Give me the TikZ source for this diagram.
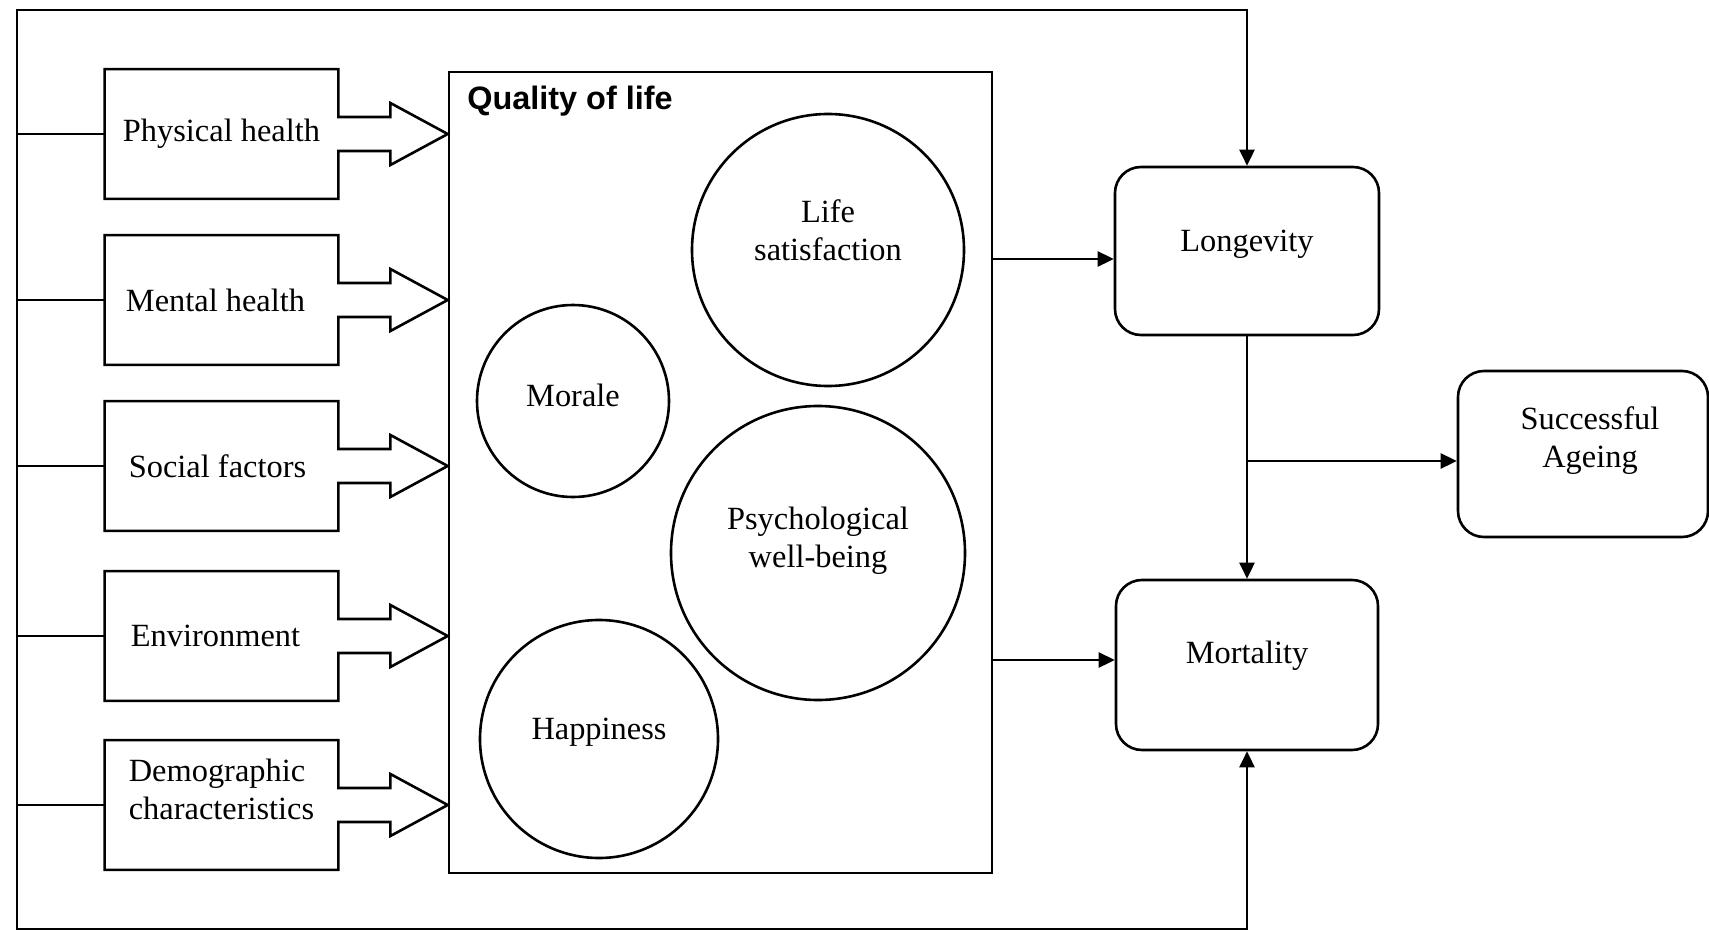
\documentclass[tikz,border=0pt]{standalone}
\usepackage{fontspec}
\setmainfont{Liberation Serif}
\newfontfamily\qolfont{Liberation Sans}
\usetikzlibrary{calc,arrows.meta}
\begin{document}
\begin{tikzpicture}[x=0.5pt,y=-0.5pt,
  every node/.style={font=\fontsize{16.2}{19}\selectfont},
  inbox/.style={minimum width=116.5pt,minimum height=64.5pt,inner sep=0pt},
  outline/.style={line width=1.3pt,line join=miter},
  wire/.style={line width=1.3pt},
  arr/.style={wire,-{Triangle[length=8pt,width=7.5pt]}},
  arrboth/.style={wire,line join=miter,{Triangle[length=8pt,width=7.5pt]}-{Triangle[length=8pt,width=7.5pt]}},
  rbox/.style={draw,line width=1.3pt,rounded corners=13pt,inner sep=0pt},
  circ/.style={draw,circle,line width=1.3pt,inner sep=0pt,align=center},
  lift/.style={text depth=#1}
]
\useasboundingbox (0,0) rectangle (1709,931);

% quality of life box
\node[draw,line width=1.3pt,minimum width=271.5pt,minimum height=400.5pt,inner sep=0pt] (qol) at (720.5,472.5) {};
\node[anchor=west,font=\qolfont\bfseries\fontsize{16.2}{19}\selectfont,inner sep=0pt] (qoltitle) at (467,101) {Quality of life};

% circles
\node[circ,minimum size=136pt,lift=20pt] (ls) at (828,250) {Life\\satisfaction};
\node[circ,minimum size=96pt,lift=6pt] (mo) at (573,401) {Morale};
\node[circ,minimum size=147pt,lift=15.5pt] (pw) at (818,553) {Psychological\\well-being};
\node[circ,minimum size=119pt,lift=10.5pt] (ha) at (599,739) {Happiness};

% input boxes
\node[inbox] (b1) at (221.5,134) {Physical health};
\node[inbox] (b2) at (221.5,300) {\hspace*{-6pt}Mental health};
\node[inbox] (b3) at (221.5,466) {\hspace*{-4pt}Social factors};
\node[inbox] (b4) at (221.5,636) {\hspace*{-6pt}Environment};
\node[inbox,align=left,lift=16pt] (b5) at (221.5,805) {Demographic\\characteristics};

\foreach \b in {b1,b2,b3,b4,b5}{
  \draw[outline] (\b.north west) -- (\b.north east) -- ($(\b.east)+(0,-17)$) -- ++(52,0) -- ++(0,-14)
    -- (qol.west |- \b.east) -- ($(\b.east)+(52,31)$) -- ++(0,-14) -- ($(\b.east)+(0,17)$)
    -- (\b.south east) -- (\b.south west) -- cycle;
}

% right boxes
\node[rbox,minimum width=132pt,minimum height=84pt,lift=10.5pt] (lon) at (1247,251) {Longevity};
\node[rbox,minimum width=131pt,minimum height=85pt,lift=12.5pt] (mor) at (1247,665) {Mortality};
\node[rbox,minimum width=125pt,minimum height=83pt,align=center,lift=16.5pt] (age) at (1583,454) {\hspace*{7pt}Successful\\\hspace*{7pt}Ageing};

% outer frame / bus
\coordinate (tl) at (17,10);
\coordinate (bl) at (17,929);
\draw[arrboth] (lon.north) -- (tl -| lon.north) -- (tl) -- (bl) -- (bl -| mor.south) -- (mor.south);
\foreach \b in {b1,b2,b3,b4,b5}{
  \draw[wire] (tl |- \b.west) -- (\b.west);
}

% connectors
\draw[arr] (qol.east |- 0,259) -- (lon.west |- 0,259);
\draw[arr] (qol.east |- 0,660) -- (mor.west |- 0,660);
\draw[arr] (lon.south) -- (mor.north);
\coordinate (br) at (1247,461);
\draw[arr] (br) -- (br -| age.west);
\end{tikzpicture}
\end{document}
